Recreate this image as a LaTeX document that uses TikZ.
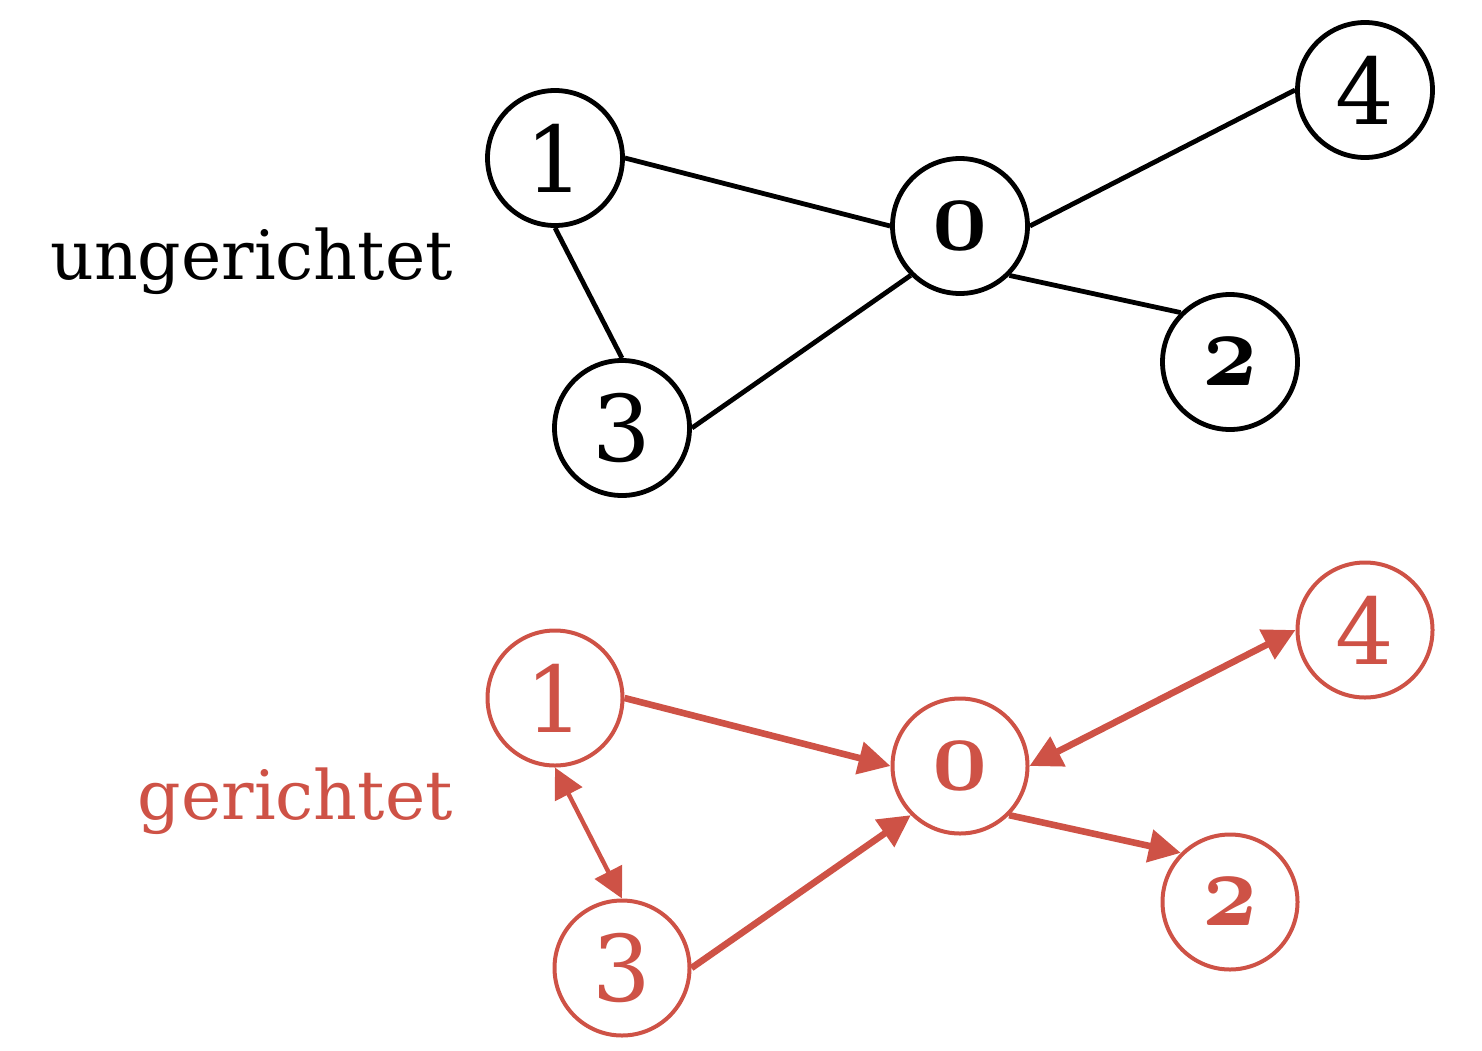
\documentclass[tikz,border=0pt]{standalone}
\usepackage{fontspec}
\usepackage{graphicx}
\setmainfont{DejaVu Serif}
\usetikzlibrary{arrows.meta}
\definecolor{edgered}{RGB}{206,82,70}
% bold old-style figures from Computer Modern bold math italic
\newcommand\osfig[1]{\scalebox{4.8}[5.3]{\fontencoding{OML}\fontfamily{cmm}\fontseries{b}\fontshape{it}\fontsize{10}{10}\selectfont #1}}

\begin{document}
\begin{tikzpicture}[x=0.5pt,y=-0.5pt,
  vtx/.style={circle,draw,line width=2.4pt,minimum size=67.5pt,inner sep=0pt,
    font=\fontsize{46}{46}\selectfont},
  redvtx/.style={vtx,line width=2pt,draw=edgered,text=edgered},
  tag/.style={anchor=base east,inner sep=0pt,font=\fontsize{34}{40}\selectfont},
  link/.style={line width=2.4pt},
  arc/.style={draw=edgered,line width=3.3pt,-{Triangle[length=16pt,width=16pt]}},
  biarc/.style={draw=edgered,line width=3.3pt,{Triangle[length=16pt,width=16pt]}-{Triangle[length=16pt,width=16pt]}},
  thinbiarc/.style={draw=edgered,line width=2.2pt,{Triangle[length=15pt,width=15pt]}-{Triangle[length=15pt,width=15pt]}}]
\useasboundingbox (0,0) rectangle (1482,1050);

% undirected graph
\node[tag] (lu) at (453,279) {ungerichtet};
\node[vtx] (u1) at (555,158) {1};
\node[vtx] (u0) at (960,226) {\osfig{0}};
\node[vtx] (u4) at (1365,90) {4};
\node[vtx] (u2) at (1230,362) {\osfig{2}};
\node[vtx] (u3) at (622,428) {3};
\draw[link] (u1.east) -- (u0.west);
\draw[link] (u0.east) -- (u4.west);
\draw[link] (u0.south east) -- (u2.north west);
\draw[link] (u3.east) -- (u0.south west);
\draw[link] (u1.south) -- (u3.north);

% directed graph
\node[tag,text=edgered] (ld) at (453,819) {gerichtet};
\node[redvtx] (d1) at (555,698) {1};
\node[redvtx] (d0) at (960,766) {\osfig{0}};
\node[redvtx] (d4) at (1365,630) {4};
\node[redvtx] (d2) at (1230,902) {\osfig{2}};
\node[redvtx] (d3) at (622,968) {3};
\draw[arc] (d1.east) -- (d0.west);
\draw[biarc] (d0.east) -- (d4.west);
\draw[arc] (d0.south east) -- (d2.north west);
\draw[arc] (d3.east) -- (d0.south west);
\draw[thinbiarc] (d1.south) -- (d3.north);
\end{tikzpicture}
\end{document}
